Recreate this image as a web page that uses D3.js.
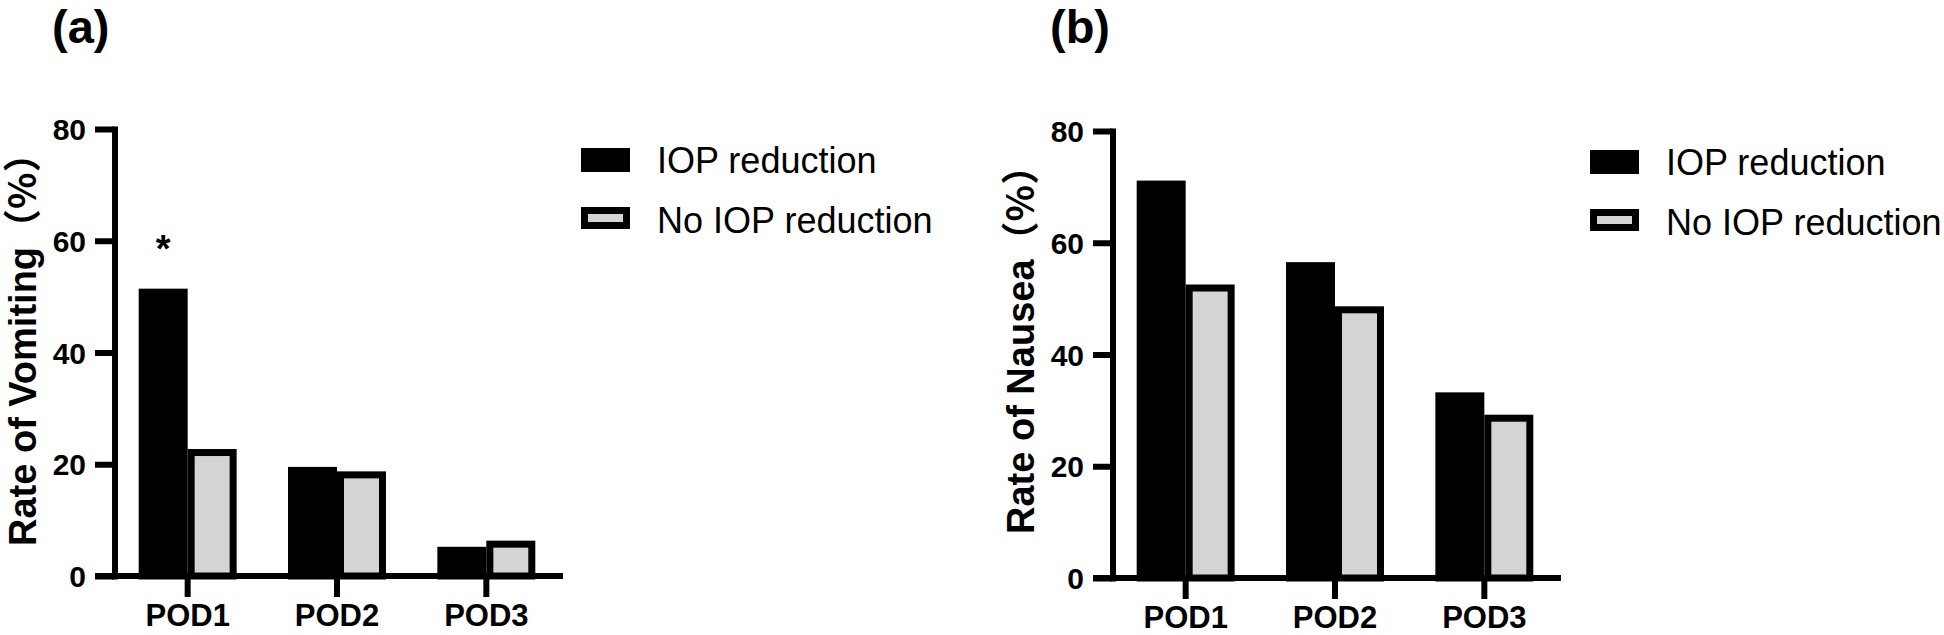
<!DOCTYPE html>
<html>
<head>
<meta charset="utf-8">
<script src="https://cdn.jsdelivr.net/npm/d3@7"></script>
<style>
  html, body { margin: 0; padding: 0; background: #ffffff; }
  svg { display: block; }
</style>
</head>
<body>
<svg id="chart" width="1944" height="635"></svg>
<script>
// ---------- data ----------
const categories = ["POD1", "POD2", "POD3"];
const seriesNames = ["IOP reduction", "No IOP reduction"];
const vomitingIOP = [50.8, 18.9, 4.6];
const vomitingNoIOP = [22.1, 18.1, 5.7];
const nauseaIOP = [70.5, 55.9, 32.6];
const nauseaNoIOP = [51.9, 48.0, 28.6];
const yTicks = [0, 20, 40, 60, 80];
const vomitingStars = [{ category: "POD1", series: "IOP reduction", label: "*" }];
const nauseaStars = [];

// ---------- styles ----------
const BLACK = "#000000";
const GREY = "#d4d4d4";
const BORDER = 7;
const AXIS_W = 6;
const LATIN = "'Liberation Sans', Arial, 'Noto Sans CJK SC', sans-serif";
const CJK = "'Noto Sans CJK SC', 'Liberation Sans', sans-serif";

const svg = d3.select("#chart");
svg.append("rect").attr("width", 1944).attr("height", 635).attr("fill", "#fff");

function drawPanel(opts) {
  const g = svg.append("g").attr("transform", `translate(${opts.dx},${opts.dy})`);
  const axisX = 114.5, y0 = 576;

  const y = d3.scaleLinear().domain([0, 80]).range([y0, 129]);
  const x = d3.scaleBand().domain(categories).range([113, 561])
    .paddingInner(0.344).paddingOuter(0.172);
  const xs = d3.scaleBand().domain(seriesNames).range([0, x.bandwidth()]).padding(0);

  const rows = categories.map((c, i) => ({ category: c, values: [opts.a[i], opts.b[i]] }));

  // bars
  const groups = g.selectAll("g.grp").data(rows).join("g")
    .attr("class", "grp")
    .attr("transform", d => `translate(${x(d.category)},0)`);
  groups.selectAll("rect").data(d => d.values.map((v, k) => ({ s: seriesNames[k], v })))
    .join("rect")
    .attr("x", d => xs(d.s) + BORDER / 2)
    .attr("width", xs.bandwidth() - BORDER)
    .attr("y", d => y(d.v))
    .attr("height", d => y0 - y(d.v))
    .attr("fill", d => d.s === seriesNames[0] ? BLACK : GREY)
    .attr("stroke", BLACK)
    .attr("stroke-width", BORDER);

  // significance stars
  g.selectAll("text.star").data(opts.stars).join("text")
    .attr("class", "star")
    .attr("x", d => x(d.category) + xs(d.series) + xs.bandwidth() / 2)
    .attr("y", d => y(opts.a[categories.indexOf(d.category)]) - 30)
    .attr("text-anchor", "middle")
    .attr("font-family", LATIN).attr("font-weight", "bold").attr("font-size", 38)
    .text(d => d.label);

  // y axis
  const yAxis = d3.axisLeft(y).tickValues(yTicks).tickSize(19.5).tickPadding(9).tickSizeOuter(0);
  const ya = g.append("g").attr("transform", `translate(${axisX},0)`).call(yAxis);
  ya.select(".domain").attr("stroke", BLACK).attr("stroke-width", AXIS_W).attr("stroke-linecap", "square");
  ya.selectAll(".tick line").attr("stroke", BLACK).attr("stroke-width", AXIS_W);
  ya.selectAll(".tick text").attr("font-family", LATIN).attr("font-weight", "bold")
    .attr("font-size", 30).attr("fill", BLACK).attr("dy", "0.35em");

  // x axis
  const xAxis = d3.axisBottom(x).tickSize(21).tickPadding(7).tickSizeOuter(0);
  const xa = g.append("g").attr("transform", `translate(0,${y0})`).call(xAxis);
  xa.select(".domain").remove();
  xa.append("line").attr("x1", axisX - 19.5).attr("x2", 563).attr("y1", 0).attr("y2", 0)
    .attr("stroke", BLACK).attr("stroke-width", AXIS_W);
  xa.selectAll(".tick line").attr("stroke", BLACK).attr("stroke-width", AXIS_W);
  xa.selectAll(".tick text").attr("font-family", LATIN).attr("font-weight", "bold")
    .attr("font-size", 31).attr("fill", BLACK);

  // y title
  const t = g.append("text")
    .attr("transform", `translate(36,${opts.titleStart}) rotate(-90)`)
    .attr("text-anchor", "start")
    .attr("font-family", LATIN).attr("font-weight", "bold").attr("font-size", 38)
    .attr("fill", BLACK);
  t.append("tspan").text(opts.title);
  t.append("tspan").attr("font-family", CJK).attr("font-weight", "bold").text("（%）");

  // panel letter
  g.append("text")
    .attr("x", 52).attr("y", 43 - opts.dy)
    .attr("font-family", LATIN)
    .attr("font-weight", "bold").attr("font-size", 47).attr("fill", BLACK)
    .text(opts.letter);

  // legend
  const lg = g.append("g").attr("transform", `translate(${opts.lx},${opts.ly})`);
  const items = lg.selectAll("g").data(seriesNames).join("g")
    .attr("transform", (d, i) => `translate(0,${i * 60})`);
  items.append("rect")
    .attr("x", d => d === seriesNames[0] ? 0 : BORDER / 2)
    .attr("y", d => d === seriesNames[0] ? 0 : -1 + BORDER / 2)
    .attr("width", d => d === seriesNames[0] ? 49 : 49 - BORDER)
    .attr("height", d => d === seriesNames[0] ? 24 : 22 - BORDER)
    .attr("fill", d => d === seriesNames[0] ? BLACK : GREY)
    .attr("stroke", d => d === seriesNames[0] ? "none" : BLACK)
    .attr("stroke-width", BORDER);
  items.append("text")
    .attr("x", 76).attr("y", 25)
    .attr("font-family", LATIN).attr("font-size", 36).attr("fill", BLACK)
    .text(d => d);
}

drawPanel({ dx: 0, dy: 0, a: vomitingIOP, b: vomitingNoIOP, stars: vomitingStars,
  title: "Rate of Vomiting", letter: "(a)", lx: 581, ly: 148, titleStart: 546 });
drawPanel({ dx: 998, dy: 2, a: nauseaIOP, b: nauseaNoIOP, stars: nauseaStars,
  title: "Rate of Nausea", letter: "(b)", lx: 592, ly: 148, titleStart: 532 });
</script>
</body>
</html>
